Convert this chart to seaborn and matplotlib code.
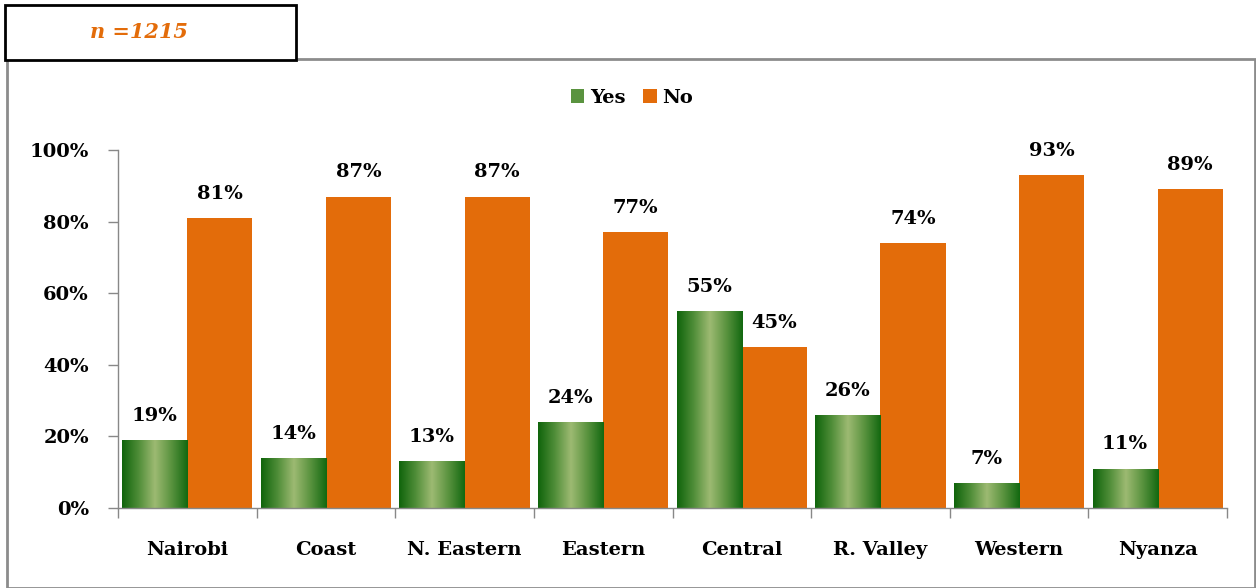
import numpy as np
import pandas as pd
import matplotlib
matplotlib.use("Agg")
import matplotlib.pyplot as plt
from matplotlib.colors import LinearSegmentedColormap
from matplotlib.patches import Rectangle, Patch
import seaborn as sns

regions = ["Nairobi", "Coast", "N. Eastern", "Eastern", "Central", "R. Valley", "Western", "Nyanza"]
yes_vals = [19, 14, 13, 24, 55, 26, 7, 11]
no_vals = [81, 87, 87, 77, 45, 74, 93, 89]
responses = ["Yes", "No"]
yticks = [0, 20, 40, 60, 80, 100]
sample_note = "n =1215"

GREEN = "#3f8a2a"
ORANGE = "#E36C0A"

sns.set_theme(style="white")
plt.rcParams["font.family"] = ["DejaVu Serif", "Liberation Serif"]
plt.rcParams["font.weight"] = "bold"
plt.rcParams["text.color"] = "black"
plt.rcParams["xtick.color"] = "black"
plt.rcParams["ytick.color"] = "black"

df = pd.DataFrame({
    "region": regions * 2,
    "response": ["Yes"] * len(regions) + ["No"] * len(regions),
    "value": yes_vals + no_vals,
})

fig = plt.figure(figsize=(12.56, 5.88), dpi=100)
ax = fig.add_axes([118 / 1256, 1 - 508 / 588, (1227 - 118) / 1256, (508 - 150) / 588])

sns.barplot(data=df, x="region", y="value", hue="response", hue_order=responses,
            palette={"Yes": GREEN, "No": ORANGE}, width=0.94, gap=0, saturation=1,
            linewidth=0, legend=False, ax=ax)

ax.set_ylim(0, 100)
ax.set_xlim(-0.5, len(regions) - 0.5)

# gradient on Yes bars
cmap = LinearSegmentedColormap.from_list("g", ["#0f640b", "#4f8d38", "#9dba72", "#5a933f", "#126810"])
grad = np.linspace(0, 1, 256).reshape(1, -1)
for p in ax.containers[0]:
    x0, y0 = p.get_x(), p.get_y()
    w, h = p.get_width(), p.get_height()
    im = ax.imshow(grad, extent=[x0, x0 + w, y0, y0 + h], aspect="auto", cmap=cmap,
                   zorder=p.get_zorder() + 0.1, interpolation="bilinear")
    im.set_clip_path(p)
ax.set_ylim(0, 100)
ax.set_xlim(-0.5, len(regions) - 0.5)
ax.set_aspect("auto")

for cont in ax.containers:
    ax.bar_label(cont, labels=[f"{int(v)}%" for v in cont.datavalues], padding=11,
                 fontsize=14, fontweight="bold", color="black", zorder=5)

ax.set_yticks(yticks)
ax.set_yticklabels([f"{t}%" for t in yticks], fontsize=14, fontweight="bold")
ax.set_xticks(range(len(regions)))
ax.set_xticklabels(regions, fontsize=14, fontweight="bold")
ax.set_xticks(np.arange(-0.5, len(regions)), minor=True)
ax.tick_params(axis="x", which="major", length=0, pad=24, bottom=True, labelcolor="black")
ax.tick_params(axis="x", which="minor", length=7, width=1, color="#888888", direction="out", bottom=True)
ax.tick_params(axis="y", length=7, width=1, color="#888888", labelcolor="black", direction="out", left=True, pad=14)
ax.set_xlabel("")
ax.set_ylabel("")
for s in ["top", "right"]:
    ax.spines[s].set_visible(False)
for s in ["left", "bottom"]:
    ax.spines[s].set_color("#888888")
    ax.spines[s].set_linewidth(1)
ax.grid(False)

# legend
handles = [Patch(facecolor="#5a933f", edgecolor="none"), Patch(facecolor=ORANGE, edgecolor="none")]
fig.legend(handles, responses, loc="center", bbox_to_anchor=(632 / 1256, 1 - 98 / 588), ncol=2,
           frameon=False, prop={"size": 14, "weight": "bold"}, handlelength=0.7, handleheight=0.7,
           handletextpad=0.3, columnspacing=0.9, labelcolor="black")

# outer frame
fig.patches.append(Rectangle((7 / 1256, 0), (1255 - 7) / 1256, 1 - 59 / 588, transform=fig.transFigure,
                             fill=False, edgecolor="#8c8c8c", linewidth=2, zorder=0))
# n box
fig.patches.append(Rectangle((5 / 1256, 1 - 60 / 588), (296 - 5) / 1256, 55 / 588, transform=fig.transFigure,
                             facecolor="white", edgecolor="black", linewidth=2, zorder=2))
fig.text(139 / 1256, 1 - 32 / 588, sample_note, ha="center", va="center", color=ORANGE,
         fontsize=15, fontweight="bold", fontstyle="italic", zorder=3)

fig.savefig("out.png", dpi=100, facecolor="white")
